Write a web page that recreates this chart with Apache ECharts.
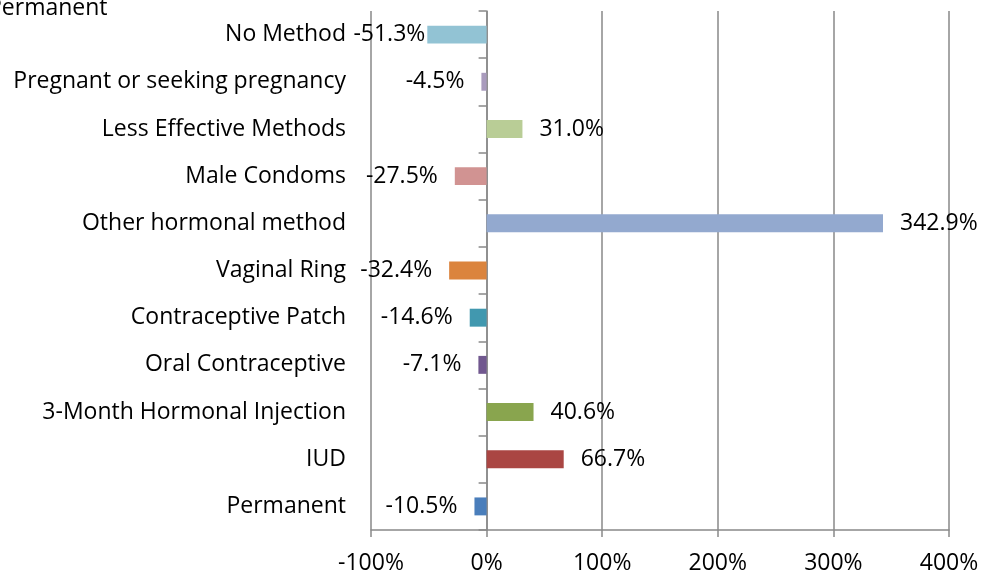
<!DOCTYPE html>
<html>
<head>
<meta charset="utf-8">
<script src="https://cdn.jsdelivr.net/npm/echarts@6/dist/echarts.min.js"></script>
<style>
  html, body { margin: 0; padding: 0; background: #fff; }
  #chart { width: 982px; height: 575px; }
</style>
</head>
<body>
<div id="chart"></div>
<script>
// bottom to top, as the category axis draws them
const categories = [
  'Permanent', 'IUD', '3-Month Hormonal Injection', 'Oral Contraceptive',
  'Contraceptive Patch', 'Vaginal Ring', 'Other hormonal method', 'Male Condoms',
  'Less Effective Methods', 'Pregnant or seeking pregnancy', 'No Method'
];
const changePct = [-10.5, 66.7, 40.6, -7.1, -14.6, -32.4, 342.9, -27.5, 31.0, -4.5, -51.3];
const barColors = [
  '#4a7ebb', '#aa4643', '#89a54e', '#71588f', '#4198af', '#db843d',
  '#93a9cf', '#d19392', '#b9cd96', '#a99bbd', '#92c3d4'
];
const xTicks = [-100, 0, 100, 200, 300, 400];

const FONT = '"Open Sans", sans-serif';
const FS = 23;
const GRAY = '#898989';

const chart = echarts.init(document.getElementById('chart'));

chart.setOption({
  backgroundColor: '#fff',
  animation: false,
  title: {
    text: 'Permanent',
    left: -17,
    top: -8,
    textStyle: { fontFamily: FONT, fontSize: FS, fontWeight: 'normal', color: '#000' }
  },
  grid: { left: 371, right: 33, top: 11, bottom: 45, containLabel: false },
  xAxis: {
    type: 'value',
    min: xTicks[0],
    max: xTicks[xTicks.length - 1],
    interval: 100,
    axisLine: { show: true, lineStyle: { color: GRAY, width: 1.5 } },
    axisTick: { show: true, length: 7, lineStyle: { color: GRAY, width: 1.5 } },
    axisLabel: {
      formatter: v => v + '%',
      fontFamily: FONT, fontSize: FS, color: '#000', margin: 22
    },
    splitLine: { show: true, lineStyle: { color: GRAY, width: 1.5 } }
  },
  yAxis: [
    {
      type: 'category',
      data: categories,
      axisLine: { show: false, onZero: false },
      axisTick: { show: false },
      axisLabel: { fontFamily: FONT, fontSize: FS, color: '#000', margin: 25 }
    },
    {
      type: 'category',
      data: categories,
      position: 'left',
      axisLine: { show: true, onZero: true, lineStyle: { color: GRAY, width: 1.5 } },
      axisTick: { show: true, length: 8, lineStyle: { color: GRAY, width: 1.5 } },
      axisLabel: { show: false }
    }
  ],
  series: [{
    type: 'bar',
    yAxisIndex: 0,
    barWidth: '38%',
    data: changePct.map((v, i) => ({
      value: v,
      itemStyle: { color: barColors[i] },
      // the top label sits tight against its bar in the original
      label: { position: v < 0 ? 'left' : 'right', distance: i === categories.length - 1 ? 2 : 17 }
    })),
    label: {
      show: true,
      formatter: p => p.value.toFixed(1) + '%',
      fontFamily: FONT, fontSize: FS, color: '#000'
    }
  }]
});
</script>
</body>
</html>
